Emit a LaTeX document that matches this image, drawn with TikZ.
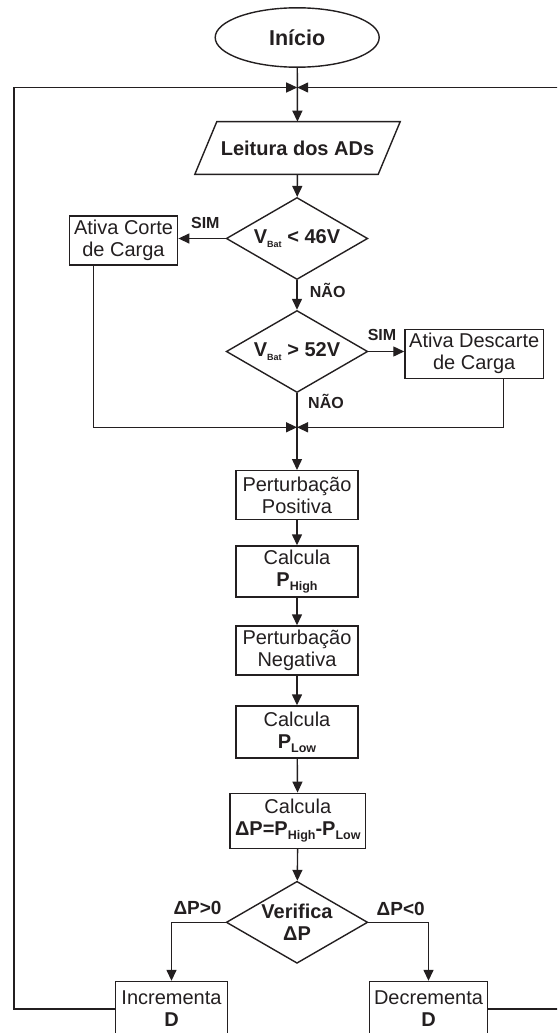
\documentclass[tikz,border=0pt]{standalone}
\usepackage{fontspec}
\setmainfont{Liberation Sans}
\usetikzlibrary{shapes.geometric,arrows.meta,calc}
\definecolor{ink}{HTML}{231F20}
% lowered indices for P_High, P_Low and V_Bat
\newcommand\lowidx[1]{\raisebox{-4pt}{\fontsize{12.5}{12.5}\selectfont\bfseries #1}}
\newcommand\batidx{\raisebox{-4pt}{\fontsize{9}{9}\selectfont\bfseries Bat}}
\begin{document}
\begin{tikzpicture}[x=1pt,y=-1pt,
  flow/.style={draw=ink, line width=1.4pt},
  arr/.style={flow, -{Triangle[length=11pt,width=10pt]}},
  terminal/.style={ellipse, draw=ink, line width=1.4pt, minimum width=164pt, minimum height=59.4pt,
    inner sep=0pt, text=ink, font=\fontsize{21.5}{24}\selectfont\bfseries},
  io/.style={rectangle, minimum width=205pt, minimum height=52.3pt, inner sep=0pt,
    text=ink, font=\fontsize{20}{22}\selectfont\bfseries},
  proc/.style={rectangle, draw=ink, line width=1.4pt, align=center, inner sep=0pt,
    text=ink, font=\fontsize{20}{22}\selectfont},
  decision/.style={diamond, draw=ink, line width=1.4pt, minimum width=141.5pt,
    minimum height=82pt, aspect=1.7, inner sep=0pt},
  dlabel/.style={align=center, inner sep=0pt, text=ink, font=\fontsize{20}{22.3}\selectfont\bfseries},
  lbl/.style={inner sep=0pt, text=ink, font=\fontsize{16}{16}\selectfont\bfseries},
  dlbl/.style={inner sep=0pt, text=ink, font=\fontsize{19}{19}\selectfont\bfseries}]
\useasboundingbox (0,0) rectangle (557,1033);
\clip (0,0) rectangle (557,1033);

% start and input
\node[terminal] (start) at (297.2,37.5) {Início};
\coordinate (j1) at (297.2,87.5);
\node[io] (read) at (297.5,148) {Leitura dos ADs};
\draw[flow] (read.south west) -- ([xshift=22pt]read.north west) -- (read.north east)
  -- ([xshift=-22pt]read.south east) -- cycle;

% battery voltage checks
\node[decision, label={[dlabel]center:{V\batidx{} < 46V}}] (d1) at (297,238.5) {};
\node[proc, minimum width=108.4pt, minimum height=49pt] (cut) at (123.5,240.3) {Ativa Corte\\de Carga};
\node[decision, label={[dlabel]center:{V\batidx{} > 52V}}] (d2) at (297,351.5) {};
\node[proc, minimum width=138.5pt, minimum height=49pt] (disc) at (474.2,353.8) {Ativa Descarte\\de Carga};
\coordinate (j2) at (297,427.3);

% perturb and observe
\node[proc, minimum width=122pt, minimum height=48.6pt] (pp) at (297,495) {Perturbação\\Positiva};
\node[proc, minimum width=122pt, minimum height=51pt] (ch) at (297,571.5) {Calcula\\{\bfseries P\lowidx{High}}};
\node[proc, minimum width=122pt, minimum height=49pt] (pn) at (297,650.5) {Perturbação\\Negativa};
\node[proc, minimum width=122pt, minimum height=52pt] (cl) at (297,732) {Calcula\\{\bfseries P\lowidx{Low}}};
\node[proc, minimum width=135.7pt, minimum height=55pt] (cd) at (297.8,820.8)
  {Calcula\\{\bfseries ΔP=P\lowidx{High}-P\lowidx{Low}}};
\node[decision, label={[dlabel]center:{Verifica\\ΔP}}] (d3) at (297,922.3) {};
\node[proc, minimum width=111.6pt, minimum height=55pt] (inc) at (171.5,1009) {Incrementa\\{\bfseries D}};
\node[proc, minimum width=118.4pt, minimum height=55pt] (dec) at (428.5,1009) {Decrementa\\{\bfseries D}};

% loop-back corners
\coordinate (loopL) at (14,87.5);
\coordinate (loopR) at (575,87.5);

% connectors
\draw[arr] (start) -- (read);
\draw[arr] (read) -- (d1);
\draw[arr] (d1.west) -- (cut.east |- d1.west);
\draw[arr] (d1) -- (d2);
\draw[arr] (d2.east) -- (disc.west |- d2.east);
\draw[arr] ([xshift=-30.2pt]cut.south) |- (j2);
\draw[arr] ([xshift=29.5pt]disc.south) |- (j2);
\draw[arr] (d2) -- (pp);
\draw[arr] (pp) -- (ch);
\draw[arr] (ch) -- (pn);
\draw[arr] (pn) -- (cl);
\draw[arr] (cl) -- (cd);
\draw[arr] (cd) -- (d3);
\draw[arr] (d3.west) -| (inc.north);
\draw[arr] (d3.east) -| (dec.north);
\draw[arr] (inc.west) -| (loopL) -- (j1);
\draw[arr] (dec.east) -| (loopR) -- (j1);

% branch labels
\node[lbl] (sim1) at (205.3,223.3) {SIM};
\node[lbl] (nao1) at (327.7,290) {NÃO};
\node[lbl] (sim2) at (382,335) {SIM};
\node[lbl] (nao2) at (326,401.7) {NÃO};
\node[dlbl] (pos) at (197.5,908) {ΔP>0};
\node[dlbl] (neg) at (400.7,908.7) {ΔP<0};
\end{tikzpicture}
\end{document}
